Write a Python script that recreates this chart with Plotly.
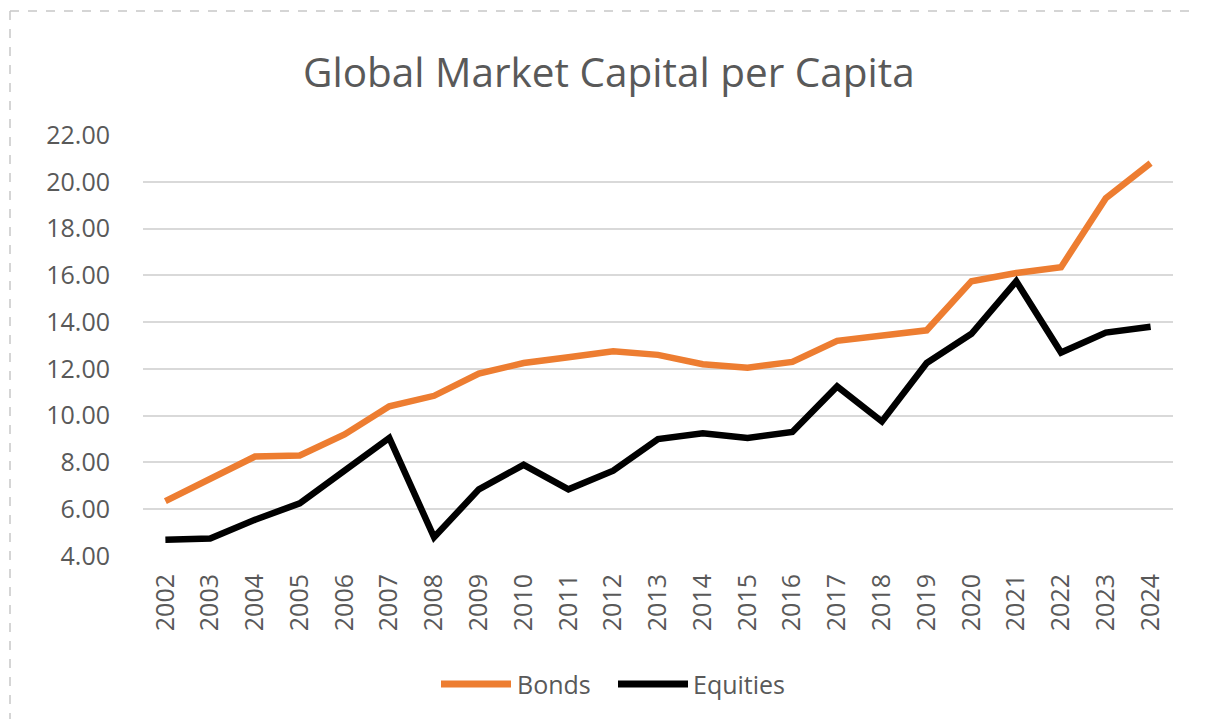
import plotly.graph_objects as go

# ── Colours / fonts ──
ORANGE = "#ED7D31"
BLACK = "#000000"
GRID = "#D9D9D9"
TEXT = "#595959"
FONT = "Open Sans, Carlito, Calibri, sans-serif"

# page body has an 8px margin, so the figure is laid out 8px left/up of the window
OFF = 8
W, H = 1205 - 2 * OFF, 727 - 2 * OFF
L, R, T, B = 143 - OFF, 1205 - OFF - 1173, 135 - OFF, 727 - 556 - OFF
PW, PH = W - L - R, H - T - B

# ── Data ──
years = [str(y) for y in range(2002, 2025)]
bonds = [6.35, 7.3, 8.25, 8.3, 9.2, 10.4, 10.85, 11.8, 12.25, 12.5, 12.75, 12.6,
         12.2, 12.05, 12.3, 13.2, 13.4, 13.65, 15.75, 16.1, 16.35, 19.3, 20.8]
equities = [4.7, 4.75, 5.55, 6.25, 7.65, 9.05, 4.8, 6.85, 7.9, 6.85, 7.65, 9.0,
            9.25, 9.05, 9.3, 11.25, 9.75, 12.25, 13.5, 15.75, 12.7, 13.55, 13.8]
y_ticks = [4, 6, 8, 10, 12, 14, 16, 18, 20, 22]


# helpers: window pixel -> paper coords
def px(x):
    return (x - OFF - L) / PW


def py(y):
    return (T + PH - (y - OFF)) / PH


fig = go.Figure()
fig.add_trace(go.Scatter(x=years, y=bonds, name="Bonds", mode="lines",
                         line=dict(color=ORANGE, width=6.5)))
fig.add_trace(go.Scatter(x=years, y=equities, name="Equities", mode="lines",
                         line=dict(color=BLACK, width=6.5)))

# dashed frame (top + left)
frame = dict(type="line", xref="paper", yref="paper",
             line=dict(color="#C8C8C8", width=1.5, dash="dash"))
shapes = [
    dict(frame, x0=px(10), x1=px(1205), y0=py(11), y1=py(11)),
    dict(frame, x0=px(10), x1=px(10), y0=py(11), y1=py(727)),
]

# legend drawn by hand so the swatches are as long as the original
legend_items = [("Bonds", ORANGE, 441, 511, 515), ("Equities", BLACK, 618, 688, 691)]
annotations = [dict(text="Global Market Capital per Capita", xref="paper", yref="paper",
                    x=px(609), y=py(72), xanchor="center", yanchor="middle",
                    showarrow=False, font=dict(family=FONT, size=40.5, color=TEXT))]
for name, color, x0, x1, xt in legend_items:
    shapes.append(dict(type="line", xref="paper", yref="paper",
                       x0=px(x0), x1=px(x1), y0=py(684), y1=py(684),
                       line=dict(color=color, width=7)))
    annotations.append(dict(text=name, xref="paper", yref="paper", x=px(xt), y=py(684),
                            xanchor="left", yanchor="middle", showarrow=False,
                            font=dict(family=FONT, size=25, color=TEXT)))

fig.update_layout(
    width=W, height=H,
    margin=dict(l=L, r=R, t=T, b=B),
    plot_bgcolor="white", paper_bgcolor="white",
    showlegend=False,
    shapes=shapes, annotations=annotations,
    xaxis=dict(type="category", range=[-0.5, 22.5], showgrid=False, zeroline=False,
               showline=False, tickangle=-90, ticks="", ticklabelstandoff=12,
               tickfont=dict(family=FONT, size=25, color=TEXT)),
    yaxis=dict(range=[4, 22], tickvals=y_ticks, tickformat=".2f", showgrid=True,
               gridcolor=GRID, gridwidth=2, zeroline=False, showline=False, ticks="",
               ticklabelstandoff=32,
               tickfont=dict(family=FONT, size=25, color=TEXT)),
)

fig.write_html("out.html")
